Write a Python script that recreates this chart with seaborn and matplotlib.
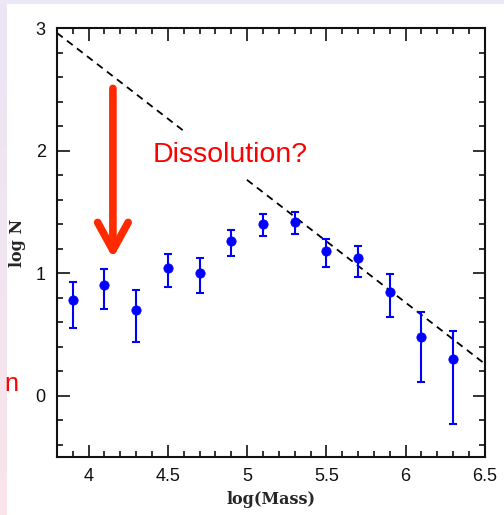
import numpy as np
import pandas as pd
import seaborn as sns
import matplotlib.pyplot as plt
from matplotlib.ticker import MultipleLocator

# binned log mass and log N with asymmetric errors
log_mass = [3.9, 4.1, 4.3, 4.5, 4.7, 4.9, 5.1, 5.3, 5.5, 5.7, 5.9, 6.1, 6.3]
log_n = [0.78, 0.90, 0.70, 1.04, 1.00, 1.26, 1.40, 1.42, 1.18, 1.12, 0.85, 0.48, 0.30]
err_hi = [0.93, 1.03, 0.86, 1.16, 1.12, 1.35, 1.48, 1.50, 1.28, 1.22, 0.99, 0.68, 0.53]
err_lo = [0.55, 0.71, 0.44, 0.89, 0.84, 1.14, 1.30, 1.32, 1.05, 0.97, 0.64, 0.11, -0.23]

# power-law reference line
line_x = [3.8, 6.5]
line_y = [2.96, 0.26]

sns.set_style("ticks")

df = pd.DataFrame({"x": log_mass, "y": log_n})
yerr = np.array([np.array(log_n) - np.array(err_lo), np.array(err_hi) - np.array(log_n)])

fig = plt.figure(figsize=(5.04, 5.15), dpi=100, facecolor="white")

# slide background remnants
bg = fig.add_axes([0, 0, 0.012, 1])
bg.imshow(np.linspace(0, 1, 100).reshape(-1, 1), aspect="auto",
          cmap=plt.matplotlib.colors.LinearSegmentedColormap.from_list(
              "bg", ["#ebe6f7", "#f9e4ea"]), extent=[0, 1, 0, 1])
bg.axis("off")
top = fig.add_axes([0, 0.993, 1, 0.007])
top.set_facecolor("#ebe8f8")
top.set_xticks([])
top.set_yticks([])
for s in top.spines.values():
    s.set_visible(False)

fig.text(0.009, 0.255, "n", color="red", fontsize=18, family="Liberation Sans",
         ha="left", va="center")

ax = fig.add_axes([0.113, 0.1126, 0.849, 0.833])

sns.lineplot(x=line_x, y=line_y, ax=ax, color="black", lw=1.3,
             dashes=False, zorder=1).lines[0].set_dashes([4, 3])

ax.errorbar(log_mass, log_n, yerr=yerr, fmt="none", ecolor="#0000ff",
            elinewidth=1.5, capsize=3, capthick=1.5, zorder=2)
sns.scatterplot(data=df, x="x", y="y", ax=ax, color="#0000ff", s=45,
                edgecolor="#0000ff", zorder=3)

ax.text(4.405, 1.96, "Dissolution?", color="#ff0000", fontsize=20.5,
        family="Liberation Sans", ha="left", va="center", zorder=4,
        bbox=dict(facecolor="white", edgecolor="none", pad=7))

ax.annotate("", xy=(4.153, 1.10), xytext=(4.153, 2.53),
            arrowprops=dict(arrowstyle="->,head_length=1.0,head_width=0.55",
                            color="#ff2a00", lw=5.5, mutation_scale=20),
            zorder=5)

ax.set_xlim(3.8, 6.5)
ax.set_ylim(-0.5, 3)
ax.xaxis.set_major_locator(MultipleLocator(0.5))
ax.xaxis.set_minor_locator(MultipleLocator(0.1))
ax.yaxis.set_major_locator(MultipleLocator(1))
ax.yaxis.set_minor_locator(MultipleLocator(0.2))
ax.set_xticks([4, 4.5, 5, 5.5, 6, 6.5])
ax.set_xticklabels(["4", "4.5", "5", "5.5", "6", "6.5"])
ax.set_yticks([0, 1, 2, 3])
ax.set_yticklabels(["0", "1", "2", "3"])

ax.tick_params(which="both", direction="in", top=True, right=True,
               width=1.2, color="#111111")
ax.tick_params(which="major", length=9)
ax.tick_params(which="minor", length=4.5)
ax.tick_params(axis="x", pad=8)
ax.tick_params(axis="y", pad=8)
for lab in ax.get_xticklabels() + ax.get_yticklabels():
    lab.set_family("Liberation Sans")
    lab.set_fontsize(13)
    lab.set_color("#111111")
for s in ax.spines.values():
    s.set_linewidth(1.5)
    s.set_color("#111111")

ax.set_xlabel("log(Mass)", family="DejaVu Serif", fontweight="bold",
              fontsize=11.5, labelpad=4)
ax.set_ylabel("log N", family="DejaVu Serif", fontweight="bold",
              fontsize=11.5, labelpad=7)

fig.savefig("out.png", dpi=100, facecolor="white")
